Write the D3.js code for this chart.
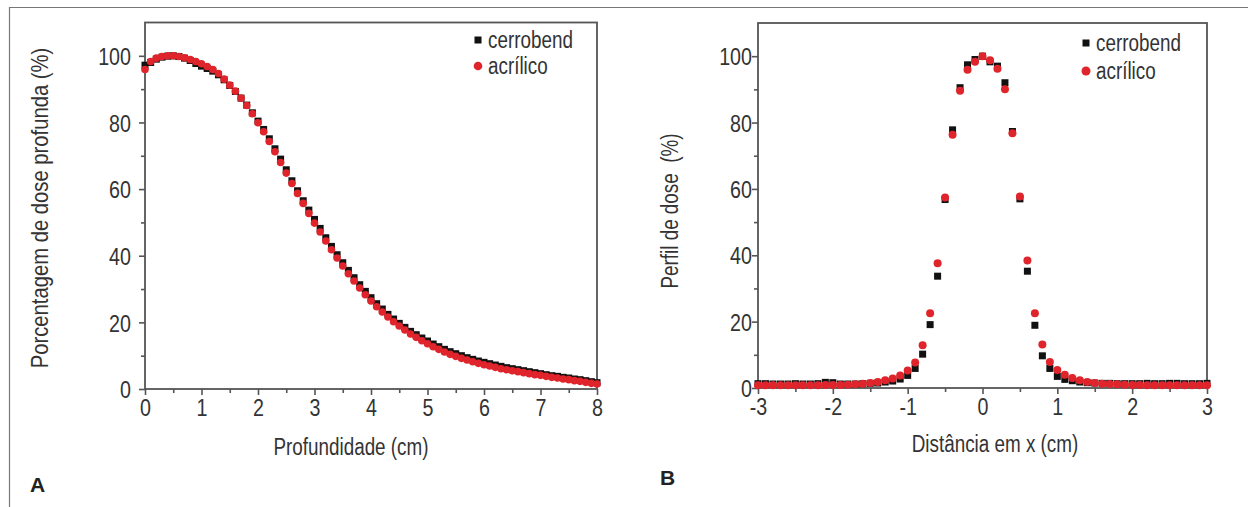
<!DOCTYPE html>
<html>
<head>
<meta charset="utf-8">
<script src="https://cdn.jsdelivr.net/npm/d3@7"></script>
<style>
  body { margin: 0; background: #fff; }
  svg text { font-family: "Liberation Sans", Arial, sans-serif; fill: #333; }
</style>
</head>
<body>
<div id="chart"></div>
<script>
// Panel A: depth dose (x = profundidade, cm)
const depthX = [0,0.1,0.2,0.3,0.4,0.5,0.6,0.7,0.8,0.9,1,1.1,1.2,1.3,1.4,1.5,1.6,1.7,1.8,1.9,
  2,2.1,2.2,2.3,2.4,2.5,2.6,2.7,2.8,2.9,3,3.1,3.2,3.3,3.4,3.5,3.6,3.7,3.8,3.9,
  4,4.1,4.2,4.3,4.4,4.5,4.6,4.7,4.8,4.9,5,5.1,5.2,5.3,5.4,5.5,5.6,5.7,5.8,5.9,
  6,6.1,6.2,6.3,6.4,6.5,6.6,6.7,6.8,6.9,7,7.1,7.2,7.3,7.4,7.5,7.6,7.7,7.8,7.9,8];
const depthCerrobend = [97.2,98.0,99.0,99.6,99.9,100.0,99.8,99.3,98.6,97.7,96.9,96.2,95.4,94.3,92.8,91.1,89.3,87.3,85.2,82.9,
  80.4,77.9,75.1,72.1,69.0,65.8,62.5,59.5,56.5,53.7,50.9,48.2,45.4,42.8,40.3,37.9,35.6,33.4,31.3,29.3,
  27.4,25.6,24.0,22.4,21.0,19.7,18.5,17.3,16.3,15.3,14.4,13.5,12.7,11.9,11.2,10.6,10.0,9.4,8.9,8.4,
  8.0,7.6,7.2,6.8,6.4,6.1,5.8,5.5,5.2,4.9,4.6,4.3,4.0,3.8,3.5,3.3,3.0,2.8,2.5,2.2,1.9];
const depthAcrilico = [95.9,98.3,99.3,99.8,100.0,100.0,99.8,99.4,98.9,98.3,97.6,96.8,95.9,94.7,93.0,91.2,89.4,87.3,85.1,82.6,
  79.9,77.2,74.3,71.2,68.0,64.8,61.7,58.7,55.7,52.7,49.8,47.1,44.4,41.8,39.3,36.9,34.6,32.4,30.3,28.3,
  26.4,24.7,23.1,21.6,20.2,18.9,17.7,16.5,15.5,14.5,13.6,12.7,11.9,11.1,10.4,9.8,9.2,8.7,8.2,7.7,
  7.3,6.9,6.5,6.1,5.8,5.5,5.2,4.9,4.6,4.3,4.1,3.8,3.5,3.3,3.0,2.8,2.5,2.3,2.0,1.7,1.5];

// Panel B: dose profile (x = distância, cm)
const profileX = [-3,-2.9,-2.8,-2.7,-2.6,-2.5,-2.4,-2.3,-2.2,-2.1,-2,-1.9,-1.8,-1.7,-1.6,-1.5,-1.4,-1.3,-1.2,-1.1,
  -1,-0.9,-0.8,-0.7,-0.6,-0.5,-0.4,-0.3,-0.2,-0.1,0,0.1,0.2,0.3,0.4,0.5,0.6,0.7,0.8,0.9,
  1,1.1,1.2,1.3,1.4,1.5,1.6,1.7,1.8,1.9,2,2.1,2.2,2.3,2.4,2.5,2.6,2.7,2.8,2.9,3];
const profileCerrobend = [1.3,1.3,1.2,1.2,1.2,1.3,1.2,1.2,1.3,1.7,1.6,1.2,1.2,1.2,1.3,1.4,1.5,1.8,2.1,2.7,
  3.8,5.9,10.2,19.1,33.7,56.8,77.8,90.5,97.4,99.0,100.0,98.3,97.0,92.0,77.3,57.0,35.2,18.9,9.7,5.9,
  3.5,2.6,2.2,1.8,1.6,1.5,1.4,1.4,1.3,1.3,1.3,1.3,1.4,1.3,1.3,1.4,1.4,1.3,1.3,1.3,1.4];
const profileAcrilico = [0.8,0.8,0.8,0.8,0.8,0.8,0.8,0.8,0.8,0.9,0.9,0.9,1.0,1.1,1.3,1.5,1.8,2.3,2.9,3.8,
  5.3,7.7,12.9,22.5,37.6,57.4,76.3,89.6,95.9,98.3,100.0,98.8,96.2,90.0,76.8,57.7,38.4,22.5,13.1,7.8,
  5.4,4.0,3.0,2.3,1.8,1.5,1.3,1.2,1.1,1.0,0.9,0.9,0.8,0.8,0.8,0.8,0.8,0.8,0.8,0.8,0.8];

const seriesNames = ["cerrobend", "acrílico"];
const yTicks = [0, 20, 40, 60, 80, 100];

const width = 1248, height = 507;
const narrow = 0.82; // condensed look, like the original figure's font

const svg = d3.select("#chart").append("svg")
  .attr("width", width)
  .attr("height", height);

// outer figure border (top and left visible)
svg.append("path")
  .attr("d", "M9.5,507 V7.5 H1248")
  .attr("fill", "none")
  .attr("stroke", "#777")
  .attr("stroke-width", 1.2);

function panel(opt) {
  const x = d3.scaleLinear().domain(opt.xDomain).range([opt.left, opt.right]);
  const y = d3.scaleLinear().domain([0, 110]).range([opt.bottom, opt.top]);

  const g = svg.append("g");

  // frame
  g.append("rect")
    .attr("x", opt.left).attr("y", opt.top)
    .attr("width", opt.right - opt.left).attr("height", opt.bottom - opt.top)
    .attr("fill", "none").attr("stroke", "#555").attr("stroke-width", 1.8);

  // minor ticks
  g.append("g").attr("transform", `translate(0,${opt.bottom})`)
    .call(d3.axisBottom(x).tickValues(opt.xMinor).tickSize(4).tickFormat(""))
    .call(a => a.select(".domain").remove());
  g.append("g").attr("transform", `translate(${opt.left},0)`)
    .call(d3.axisLeft(y).tickValues([10, 30, 50, 70, 90]).tickSize(4).tickFormat(""))
    .call(a => a.select(".domain").remove());

  // major ticks
  const xa = g.append("g").attr("transform", `translate(0,${opt.bottom})`)
    .call(d3.axisBottom(x).tickValues(opt.xTicks).tickSize(6).tickFormat(d => String(d)))
    .call(a => a.select(".domain").remove());
  const ya = g.append("g").attr("transform", `translate(${opt.left},0)`)
    .call(d3.axisLeft(y).tickValues(yTicks).tickSize(6).tickFormat(d => String(d)))
    .call(a => a.select(".domain").remove());
  g.selectAll(".tick line").attr("stroke", "#555").attr("stroke-width", 1.6);
  xa.selectAll("text")
    .attr("font-size", 24).attr("y", 10).attr("dy", "0.72em")
    .attr("transform", `scale(${narrow},1)`);
  ya.selectAll("text")
    .attr("font-size", 24).attr("x", -opt.yLabPad / narrow).attr("dy", "0.36em")
    .attr("transform", `scale(${narrow},1)`);

  // data
  const cerro = opt.xs.map((d, i) => [d, opt.cerro[i]]);
  const acri = opt.xs.map((d, i) => [d, opt.acri[i]]);
  g.append("g").selectAll("rect").data(cerro).join("rect")
    .attr("x", d => x(d[0]) - opt.sq / 2)
    .attr("y", d => y(d[1]) - opt.sq / 2)
    .attr("width", opt.sq).attr("height", opt.sq)
    .attr("fill", "#111");
  g.append("g").selectAll("circle").data(acri).join("circle")
    .attr("cx", d => x(d[0]))
    .attr("cy", d => y(d[1]))
    .attr("r", opt.r)
    .attr("fill", "#e0242b");

  // legend
  const lg = g.append("g").attr("transform", `translate(${opt.legX},${opt.legY})`);
  lg.append("rect").attr("x", -opt.sq / 2).attr("y", -opt.sq / 2)
    .attr("width", opt.sq).attr("height", opt.sq).attr("fill", "#111");
  lg.append("circle").attr("cx", 0).attr("cy", opt.legGap).attr("r", opt.r + 0.5).attr("fill", "#e0242b");
  lg.selectAll("text").data(seriesNames).join("text")
    .attr("transform", (d, i) => `translate(10,${i * opt.legGap}) scale(${narrow},1)`)
    .attr("dy", "0.36em")
    .attr("font-size", 23)
    .text(d => d);

  // axis titles
  g.append("text")
    .attr("transform", `translate(${opt.xTitleX},${opt.xTitleY}) scale(${narrow},1)`)
    .attr("text-anchor", "middle")
    .attr("font-size", 23)
    .text(opt.xTitle);
  g.append("text")
    .attr("transform", `translate(${opt.yTitleX},${opt.yTitleMid}) rotate(-90) scale(${opt.yTitleScale},1)`)
    .attr("text-anchor", "middle")
    .attr("font-size", 23)
    .style("white-space", "pre")
    .text(opt.yTitle);

  // panel letter
  g.append("text")
    .attr("x", opt.letterX).attr("y", opt.letterY)
    .attr("font-size", 21)
    .attr("font-weight", "bold")
    .style("fill", "#222")
    .text(opt.letter);
}

panel({
  xs: depthX, cerro: depthCerrobend, acri: depthAcrilico,
  xDomain: [0, 8], xTicks: [0, 1, 2, 3, 4, 5, 6, 7, 8],
  xMinor: [0.5, 1.5, 2.5, 3.5, 4.5, 5.5, 6.5, 7.5],
  left: 145, right: 597, top: 22.5, bottom: 389,
  sq: 7, r: 3.8, yLabPad: 14,
  legX: 478, legY: 40, legGap: 26,
  xTitle: "Profundidade (cm)", xTitleX: 351, xTitleY: 455,
  yTitle: "Porcentagem de dose profunda (%)", yTitleX: 48, yTitleMid: 208, yTitleScale: 0.88,
  letter: "A", letterX: 30, letterY: 492
});

panel({
  xs: profileX, cerro: profileCerrobend, acri: profileAcrilico,
  xDomain: [-3, 3], xTicks: [-3, -2, -1, 0, 1, 2, 3],
  xMinor: [-2.5, -1.5, -0.5, 0.5, 1.5, 2.5],
  left: 758, right: 1207, top: 23, bottom: 388,
  sq: 7, r: 4, yLabPad: 6,
  legX: 1086, legY: 43, legGap: 28,
  xTitle: "Distância em x (cm)", xTitleX: 995, xTitleY: 452,
  yTitle: "Perfil de dose  (%)", yTitleX: 678, yTitleMid: 211, yTitleScale: narrow,
  letter: "B", letterX: 660, letterY: 485
});
</script>
</body>
</html>
